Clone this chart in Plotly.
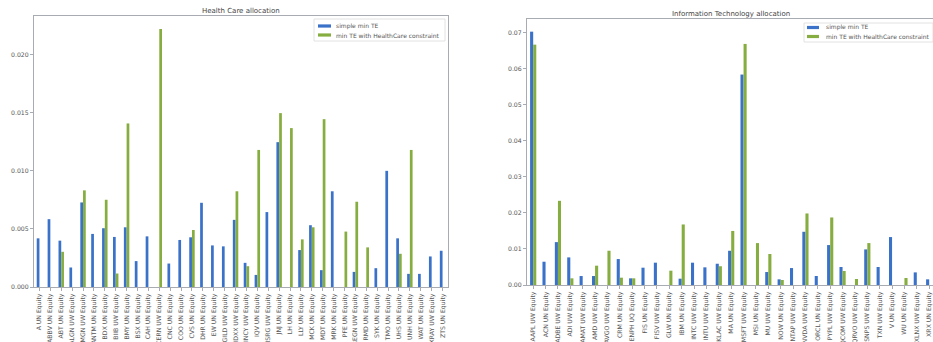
import plotly.graph_objects as go

W, H = 933, 342

hc_tickers = ["A UN Equity", "ABBV UN Equity", "ABT UN Equity", "ALGN UW Equity", "AMGN UW Equity",
              "ANTM UN Equity", "BDX UN Equity", "BIIB UW Equity", "BMY UN Equity", "BSX UN Equity",
              "CAH UN Equity", "CERN UW Equity", "CNC UN Equity", "COO UN Equity", "CVS UN Equity",
              "DHR UN Equity", "EW UN Equity", "GILD UW Equity", "IDXX UW Equity", "INCY UW Equity",
              "IQV UN Equity", "ISRG UW Equity", "JNJ UN Equity", "LH UN Equity", "LLY UN Equity",
              "MCK UN Equity", "MDT UN Equity", "MRK UN Equity", "PFE UN Equity", "REGN UW Equity",
              "RMD UN Equity", "SYK UN Equity", "TMO UN Equity", "UHS UN Equity", "UNH UN Equity",
              "WAT UN Equity", "XRAY UW Equity", "ZTS UN Equity"]
hc_simple = [0.00419, 0.00584, 0.00399, 0.00168, 0.00728, 0.00457, 0.00506, 0.00431, 0.00514, 0.00223,
             0.00436, 0.0, 0.00202, 0.00405, 0.00428, 0.00725, 0.00358, 0.00350, 0.00578, 0.00208,
             0.00104, 0.00645, 0.01247, 0.0, 0.00318, 0.00532, 0.00145, 0.00824, 0.0, 0.00130,
             0.0, 0.00162, 0.01000, 0.00419, 0.00113, 0.00113, 0.00263, 0.00312]
hc_constr = [0.0, 0.0, 0.00303, 0.0, 0.00832, 0.0, 0.00751, 0.00116, 0.01408, 0.0,
             0.0, 0.02222, 0.0, 0.0, 0.00491, 0.0, 0.0, 0.0, 0.00824, 0.00179,
             0.01180, 0.0, 0.01497, 0.01368, 0.00410, 0.00514, 0.01445, 0.0, 0.00477, 0.00734,
             0.00341, 0.0, 0.0, 0.00286, 0.01180, 0.0, 0.0, 0.0]

it_tickers = ["AAPL UW Equity", "ACN UN Equity", "ADBE UW Equity", "ADI UW Equity", "AMAT UW Equity",
              "AMD UW Equity", "AVGO UW Equity", "CRM UN Equity", "ENPH UQ Equity", "FIS UN Equity",
              "FISV UW Equity", "GLW UN Equity", "IBM UN Equity", "INTC UW Equity", "INTU UW Equity",
              "KLAC UW Equity", "MA UN Equity", "MSFT UW Equity", "MSI UN Equity", "MU UW Equity",
              "NOW UN Equity", "NTAP UW Equity", "NVDA UW Equity", "ORCL UN Equity", "PYPL UW Equity",
              "QCOM UW Equity", "QRVO UW Equity", "SNPS UW Equity", "TXN UW Equity", "V UN Equity",
              "WU UN Equity", "XLNX UW Equity", "XRX UN Equity"]
it_simple = [0.0703, 0.00646, 0.0119, 0.00766, 0.00249, 0.00249, 0.0, 0.0072, 0.00185, 0.0048,
             0.00619, 0.0, 0.00175, 0.00619, 0.0049, 0.0059, 0.0095, 0.0584, 0.0, 0.0036,
             0.00157, 0.0047, 0.01477, 0.0025, 0.01108, 0.0050, 0.0, 0.00988, 0.0050, 0.0133,
             0.0, 0.0035, 0.00157]
it_constr = [0.0667, 0.0, 0.02336, 0.00185, 0.0, 0.00536, 0.00951, 0.00203, 0.00185, 0.0,
             0.0, 0.00397, 0.0168, 0.0, 0.0, 0.0052, 0.0150, 0.0669, 0.01163, 0.0086,
             0.00139, 0.0, 0.01985, 0.0, 0.01874, 0.00388, 0.00166, 0.01163, 0.0, 0.0,
             0.00194, 0.0, 0.0]

series_names = ["simple min TE", "min TE with HealthCare constraint"]
titles = ["Health Care allocation", "Information Technology allocation"]

BLUE = "#3a71c9"
GREEN = "#86ad3f"
SPINE = "#a8acb2"
TXT = "#555555"
FONT = "DejaVu Sans"

fig = go.Figure()

def add_bars(x, s, c, xa, ya):
    fig.add_trace(go.Bar(x=x, y=s, name=series_names[0], marker=dict(color=BLUE, line=dict(width=0)),
                         width=0.25, offset=-0.25, xaxis=xa, yaxis=ya, showlegend=False))
    fig.add_trace(go.Bar(x=x, y=c, name=series_names[1], marker=dict(color=GREEN, line=dict(width=0)),
                         width=0.25, offset=0.0, xaxis=xa, yaxis=ya, showlegend=False))

add_bars(hc_tickers, hc_simple, hc_constr, "x", "y")
add_bars(it_tickers, it_simple, it_constr, "x2", "y2")

def px_x(p):
    return p / W

def px_y(p):
    return (H - p) / H

xtickfont = dict(family=FONT, size=6.2, color=TXT)
ytickfont = dict(family=FONT, size=6.2, color=TXT)
common_x = dict(type="category", tickangle=-90, ticks="outside", ticklen=3, tickwidth=1,
                tickcolor=SPINE, showline=True, linecolor=SPINE, linewidth=1, showgrid=False,
                zeroline=False, tickfont=xtickfont, automargin=False)
common_y = dict(ticks="outside", ticklen=3, tickwidth=1, tickcolor=SPINE, showline=True,
                linecolor=SPINE, linewidth=1, showgrid=False, zeroline=False,
                tickfont=ytickfont, automargin=False)

L1, R1, T1, B1 = 34, 448, 16, 287
L2, R2, T2, B2 = 527, 933, 19, 285

ymax1 = max(max(hc_simple), max(hc_constr)) * 1.05
ymax2 = max(max(it_simple), max(it_constr)) * 1.05
cat_px2 = 12.375
x2_right = -0.5 + (R2 - L2) / cat_px2

fig.update_layout(
    width=W, height=H,
    margin=dict(l=0, r=0, t=0, b=0),
    paper_bgcolor="white", plot_bgcolor="white",
    template="none",
    barmode="overlay",
    xaxis=dict(common_x, domain=[px_x(L1), px_x(R1)], anchor="y", mirror=True,
               range=[-0.5, len(hc_tickers) - 0.5]),
    yaxis=dict(common_y, domain=[px_y(B1), px_y(T1)], anchor="x", mirror=True,
               range=[0, ymax1], tick0=0, dtick=0.005, tickformat=".3f"),
    xaxis2=dict(common_x, domain=[px_x(L2), 1.0], anchor="y2", mirror=True,
                range=[-0.5, x2_right]),
    yaxis2=dict(common_y, domain=[px_y(B2), px_y(T2)], anchor="x2", mirror=False,
                range=[0, ymax2], tick0=0, dtick=0.01, tickformat=".2f"),
    showlegend=False,
)

annotations = []
shapes = []

# titles
annotations.append(dict(text=titles[0], x=px_x((L1 + R1) / 2), y=px_y(11), xref="paper", yref="paper",
                        xanchor="center", yanchor="middle", showarrow=False,
                        font=dict(family=FONT, size=7, color="#444444")))
annotations.append(dict(text=titles[1], x=px_x((L2 + 935.5) / 2), y=px_y(14), xref="paper", yref="paper",
                        xanchor="center", yanchor="middle", showarrow=False,
                        font=dict(family=FONT, size=7, color="#444444")))

# manual legends (box, swatches, text)
def legend(bx0, bx1, by0, by1, sw_x0, sw_x1, rows, txt_x):
    shapes.append(dict(type="rect", xref="paper", yref="paper", x0=px_x(bx0), x1=px_x(bx1),
                       y0=px_y(by1), y1=px_y(by0), line=dict(color="#e2e2e2", width=1),
                       fillcolor="rgba(255,255,255,0.8)", layer="above"))
    for i, (cy, col) in enumerate(zip(rows, [BLUE, GREEN])):
        shapes.append(dict(type="rect", xref="paper", yref="paper", x0=px_x(sw_x0), x1=px_x(sw_x1),
                           y0=px_y(cy + 1.6), y1=px_y(cy - 1.6), line=dict(width=0),
                           fillcolor=col, layer="above"))
        annotations.append(dict(text=series_names[i], x=px_x(txt_x), y=px_y(cy), xref="paper",
                                yref="paper", xanchor="left", yanchor="middle", showarrow=False,
                                font=dict(family=FONT, size=6, color=TXT)))

legend(314, 445, 19, 41, 318, 331, [26, 35], 334)
legend(804, 933, 23, 42, 807, 819, [27.5, 36.5], 824)

fig.update_layout(annotations=annotations, shapes=shapes)

fig.write_html("out.html")
